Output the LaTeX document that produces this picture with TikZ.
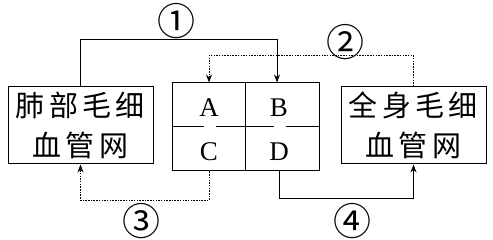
\documentclass[tikz,border=0pt]{standalone}
\usepackage{fontspec}
\newfontfamily\cjk[LetterSpace=15]{Noto Sans CJK SC}
\newfontfamily\circfont{Noto Sans CJK SC}
\newfontfamily\cellfont{Liberation Serif}
\usetikzlibrary{arrows.meta, positioning}

\begin{document}
\begin{tikzpicture}[
  x=1pt, y=-1pt,
  >=Stealth,
  % --- boxes ---
  netbox/.style={
    draw, line width=1pt, minimum width=145pt, minimum height=77pt,
    inner sep=0pt, align=center, font=\cjk\fontsize{29}{40}\selectfont
  },
  heartbox/.style={draw, line width=1pt, minimum width=147pt, minimum height=88pt, inner sep=0pt},
  cell/.style={font=\cellfont\fontsize{27}{27}\selectfont, inner sep=0pt},
  % --- labels ---
  numlbl/.style={font=\circfont\fontsize{38}{38}\selectfont, inner sep=0pt},
  % --- arrows ---
  arr/.style={-{Stealth[length=8pt, width=6pt]}, line width=1pt},
  darr/.style={arr, dash pattern=on 1.5pt off 1.2pt},
]
\useasboundingbox (0,0) rectangle (493,240);

% ===================== BOXES =====================

\node[netbox] (lung) at (80.5,125.5) {肺部毛细\\血管网};
\node[heartbox] (heart) at (245.5,127) {};
\node[netbox] (body) at (413.5,125.5) {全身毛细\\血管网};

\node[cell] (A) at (209,108) {A};
\node[cell] (B) at (279,108) {B};
\node[cell] (C) at (209,152) {C};
\node[cell] (D) at (279,152) {D};

% dividers
\draw[line width=1pt] (heart.north) -- (heart.south);
\draw[line width=1pt] (heart.west) -- ++(32,0);
\draw[line width=1pt] ([xshift=44pt]heart.west) -- ++(58,0);
\draw[line width=1pt] ([xshift=114pt]heart.west) -- (heart.east);

\coordinate (inA) at ([xshift=-36.5pt]heart.north);
\coordinate (inB) at ([xshift=31.5pt]heart.north);
\coordinate (outC) at ([xshift=-36.5pt]heart.south);
\coordinate (outD) at ([xshift=33.5pt]heart.south);

% ===================== CONNECTIONS =====================

\draw[arr] (lung.north) -- ++(0,-47) -| (inB);
\draw[darr] (body.north) -- ++(0,-31) -| (inA);
\draw[darr] (outC) -- ++(0,29) -| (lung.south);
\draw[arr] (outD) -- ++(0,27) -| (body.south);

\node[numlbl] (n1) at (176,21) {①};
\node[numlbl] (n2) at (345,42) {②};
\node[numlbl] (n3) at (141,221) {③};
\node[numlbl] (n4) at (352,221) {④};

\end{tikzpicture}
\end{document}
